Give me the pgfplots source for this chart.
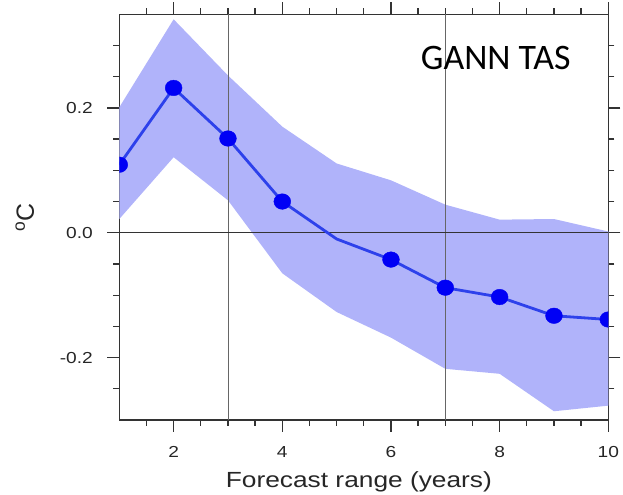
\documentclass[border=0pt]{standalone}
\usepackage{pgfplots}
\pgfplotsset{compat=1.18}
\usepackage{fontspec}
\setmainfont{Liberation Sans}[FakeStretch=1.2]
\newfontfamily\plainsans{Liberation Sans}
\newfontfamily\calibri{Carlito}
\definecolor{bandc}{RGB}{176,179,250}
\definecolor{lnc}{RGB}{45,65,235}
\definecolor{mkc}{RGB}{0,0,245}
\begin{document}
\begin{tikzpicture}[x=1bp,y=1bp]
\path[use as bounding box] (0,0) rectangle (623,495);
\begin{axis}[
  at={(119.3bp,75bp)}, anchor=south west,
  scale only axis, width=489bp, height=405.7bp,
  xmin=1, xmax=10, ymin=-0.3, ymax=0.35,
  xtick={2,4,6,8,10}, minor xtick={1.5,2.5,3,3.5,4.5,5,5.5,6.5,7,7.5,8.5,9,9.5},
  ytick={-0.2,0,0.2}, minor ytick={-0.25,-0.15,-0.1,-0.05,0.05,0.1,0.15,0.25,0.3},
  tick align=outside,
  major tick length=12bp, minor tick length=6bp,
  axis line style={line width=1.3bp, black!80},
  every tick/.style={line width=1.3bp, black!80},
  /pgf/number format/assume math mode=true,
  ticklabel style={font=\fontsize{16}{19}\selectfont, text=black!85},
  yticklabel style={xshift=-11bp, /pgf/number format/.cd, fixed, fixed zerofill, precision=1},
  xticklabel style={yshift=-11bp, /pgf/number format/.cd, fixed, precision=0},
  xlabel={Forecast range (years)},
  every axis x label/.style={at={(axis description cs:0.49,-0.1676)}, anchor=base},
  xlabel style={font=\fontsize{22}{26}\selectfont, text=black!85},
  ylabel={\textsuperscript{o}C},
  every axis y label/.style={at={(axis description cs:-0.193,0.5)}, rotate=90, anchor=center},
  ylabel style={font=\plainsans\fontsize{25}{30}\selectfont, text=black!85},
  clip=true,
]
\addplot[draw=none, fill=bandc] table[x=x, y=y] {
x y
1 0.201
2 0.342
3 0.252
4 0.170
5 0.111
6 0.084
7 0.045
8 0.021
9 0.022
10 0.002
10 -0.277
9 -0.286
8 -0.226
7 -0.218
6 -0.168
5 -0.127
4 -0.065
3 0.052
2 0.121
1 0.022
} -- cycle;
\addplot[gray!80!black, line width=0.9bp] coordinates {(3,-0.3) (3,0.35)};
\addplot[gray!80!black, line width=0.9bp] coordinates {(7,-0.3) (7,0.35)};
\addplot[black!80, line width=1bp] coordinates {(1,0) (10,0)};
\addplot[lnc, line width=2.8bp] coordinates {
(1,0.109) (2,0.232) (3,0.151) (4,0.050) (5,-0.010) (6,-0.043) (7,-0.088) (8,-0.103) (9,-0.133) (10,-0.139)};
\addplot[only marks, mark=*, mark size=7.8bp, mark options={fill=mkc, draw=mkc, xscale=1.08}, clip mode=individual] coordinates {
(1,0.109) (2,0.232) (3,0.151) (4,0.050) (6,-0.043) (7,-0.088) (8,-0.103) (9,-0.133) (10,-0.139)};
\end{axis}
\node[anchor=base west, font=\calibri\fontsize{36}{40}\selectfont, inner sep=0pt] at (420.7,425) {GANN TAS};
\end{tikzpicture}
\end{document}
